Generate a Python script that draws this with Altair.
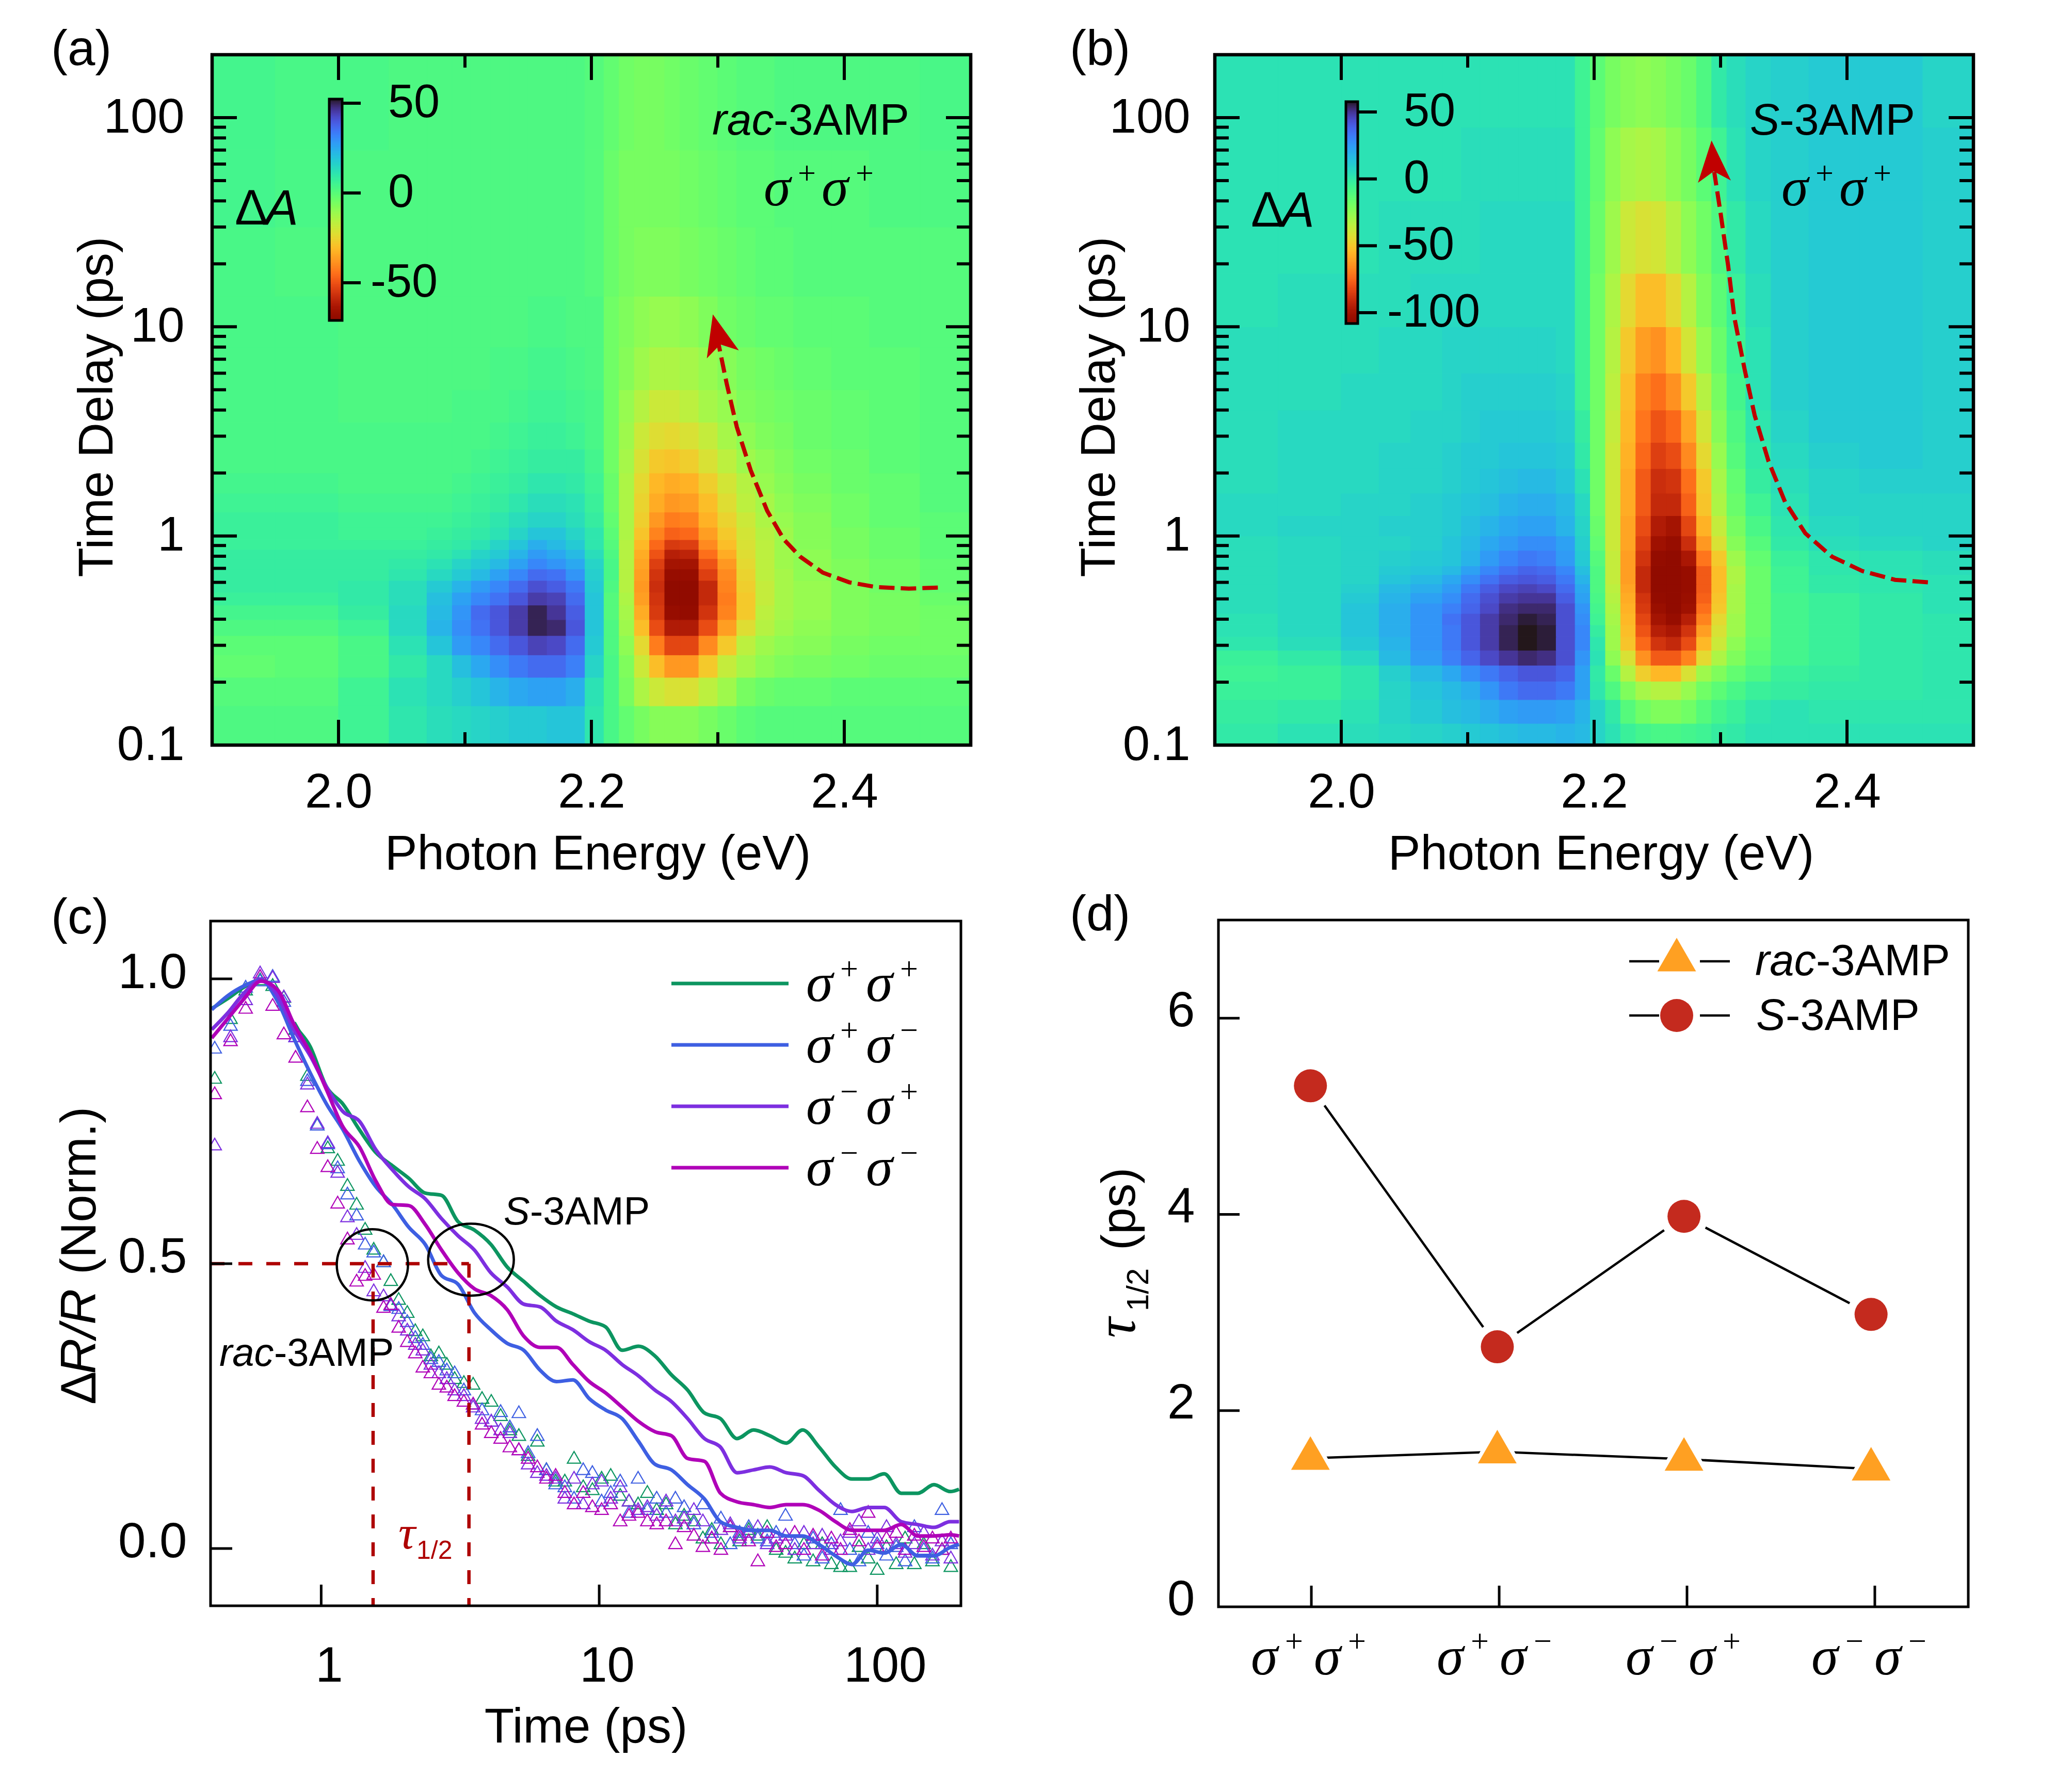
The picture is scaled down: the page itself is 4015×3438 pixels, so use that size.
import math
import altair as alt
import pandas as pd

SANS = "Liberation Sans"
SERIF = "Liberation Serif"
RED = "#C00000"
DRED = "#AE0000"

a_xe = [1.90,1.95,2.00,2.04,2.07,2.09,2.105,2.12,2.135,2.15,2.165,2.18,2.195,2.21,2.222,2.234,2.246,2.258,2.27,2.285,2.30,2.315,2.33,2.345,2.36,2.39,2.42,2.46,2.50]
a_ye = [.1,.154,.211,.27,.334,.398,.467,.538,.613,.695,.779,.862,.96,1.1,1.3,1.6,2.0,2.6,3.5,5,8,14,30,70,200]
a_r = [
[41,41,38,34,32,31,30,29,28,28,27,27,34,40,44,47,49,49,49,47,45,43,42,42,42,42,42,42],
[42,42,38,33,31,29,27,24,22,21,21,23,33,40,47,54,58,60,60,56,52,47,45,44,44,43,43,43],
[44,43,40,35,31,26,22,18,15,13,13,16,30,40,48,58,67,73,73,65,57,53,50,48,47,46,45,45],
[43,43,40,33,27,20,17,13,10,7,8,13,28,41,50,62,77,85,85,75,65,56,52,50,49,47,46,46],
[41,41,38,31,24,18,14,10,6,2,3,10,27,41,52,67,84,93,93,84,72,61,55,52,50,48,47,46],
[39,39,36,31,25,19,13,10,6,2,5,11,27,42,53,70,87,98,99,88,76,65,56,53,51,48,47,46],
[37,37,35,32,26,21,17,14,10,6,7,13,27,42,54,72,88,100,100,90,77,65,57,53,51,48,47,45],
[36,36,35,32,28,24,20,17,13,9,11,15,28,41,55,73,89,100,100,90,76,64,57,53,51,48,46,44],
[36,36,36,34,31,28,25,21,17,13,14,19,29,40,55,72,88,98,98,86,75,63,56,53,50,48,46,44],
[36,36,36,35,33,30,28,25,21,17,19,22,30,40,55,71,86,95,95,83,73,62,56,52,50,48,46,44],
[36,36,36,36,35,33,30,28,24,20,22,25,32,41,55,70,83,92,91,79,70,61,56,52,50,47,45,43],
[37,37,37,37,36,35,33,30,27,23,25,28,34,42,55,68,80,87,86,75,67,60,56,52,49,47,45,43],
[37,37,38,38,37,36,35,33,30,27,27,30,34,43,54,66,76,81,80,72,65,59,55,52,49,47,45,43],
[37,37,38,38,38,37,36,34,32,30,30,32,36,44,54,64,73,77,76,69,63,58,54,51,49,46,44,43],
[38,38,39,39,39,38,37,36,34,32,32,33,37,45,54,63,70,73,72,67,61,56,53,50,48,46,44,42],
[39,39,40,40,40,39,38,37,36,34,34,35,38,45,54,62,68,70,69,64,59,55,51,49,47,45,44,42],
[40,40,40,40,40,40,39,38,37,36,36,36,39,46,53,60,65,66,64,60,56,52,50,48,46,45,43,42],
[40,40,40,40,40,40,40,39,38,37,37,38,40,46,52,58,61,62,60,57,53,50,48,47,45,44,43,42],
[40,40,41,41,41,40,40,40,39,38,38,39,40,46,51,55,58,58,56,53,51,48,47,46,45,44,43,42],
[40,40,41,41,41,41,41,40,40,39,39,40,41,46,49,52,54,54,53,51,49,47,46,45,44,43,43,42],
[40,40,41,41,41,41,41,41,41,40,40,41,41,46,48,50,51,51,50,48,46,45,44,44,43,43,42,42],
[40,41,41,41,41,41,41,41,41,41,41,41,42,45,47,48,48,48,47,46,45,44,43,43,42,42,42,42],
[39,40,41,41,41,41,41,41,41,41,41,41,42,45,47,47,47,47,46,45,44,43,43,42,42,42,41,41],
[39,40,40,41,41,41,41,41,41,41,41,41,42,44,46,47,47,46,45,44,43,42,42,41,41,41,41,40],
]
# ---------- heat map (b)
b_xe = [1.90,1.95,2.00,2.03,2.055,2.08,2.095,2.11,2.125,2.14,2.155,2.17,2.185,2.197,2.209,2.221,2.233,2.245,2.257,2.269,2.281,2.293,2.305,2.32,2.34,2.37,2.41,2.46,2.50]
b_ye = [.1,.127,.165,.202,.241,.284,.33,.376,.426,.477,.535,.59,.653,.719,.853,1.0,1.25,1.6,2.1,2.8,4,6,10,18,40,90,200]
b_r = [
[35,33,32,31,30,29,28,27,26,25,25,24,25,30,33,37,39,40,40,39,38,36,35,33,33,33,33,33],
[36,35,33,30,28,26,25,23,21,20,20,21,24,30,35,42,46,48,48,46,42,39,37,34,33,34,34,34],
[37,37,34,30,27,25,23,19,15,13,13,15,21,34,41,48,53,55,55,51,46,43,40,37,36,35,35,34],
[38,37,34,29,25,22,18,15,12,10,10,12,21,35,45,55,64,68,68,60,52,48,44,41,37,36,35,34],
[37,35,31,25,20,16,12,8,5,3,4,9,19,33,50,60,74,82,82,76,62,54,48,43,39,37,35,34],
[34,32,28,24,19,15,10,6,2,0,1,9,17,34,52,66,80,88,90,84,68,58,50,44,39,37,35,34],
[33,31,27,23,19,15,10,6,2,0,1,9,17,36,52,67,83,92,94,88,72,60,52,45,39,37,35,34],
[33,31,27,23,19,14,10,6,3,1,2,9,18,38,53,68,85,95,98,92,76,62,52,45,39,37,35,34],
[32,31,27,23,19,16,12,8,4,3,3,9,19,39,54,69,87,97,100,96,79,65,53,45,39,37,35,33],
[32,31,28,24,21,18,13,9,6,5,5,11,21,40,55,70,88,99,100,97,81,66,53,45,39,37,35,33],
[32,31,29,25,23,20,15,11,8,7,8,13,22,41,56,71,90,100,100,98,82,67,53,45,38,35,34,33],
[32,31,30,27,25,22,18,14,11,10,11,15,24,41,57,72,90,100,100,98,82,67,54,45,38,35,34,33],
[32,31,30,28,27,25,21,17,14,12,13,17,26,41,57,72,90,100,100,98,82,67,54,45,38,34,33,32],
[32,31,30,29,28,27,24,20,17,15,16,20,28,42,57,72,88,99,100,94,78,65,52,44,37,34,33,32],
[32,31,30,30,29,27,25,22,20,18,18,21,29,44,58,71,86,96,98,89,73,60,49,42,35,32,31,30],
[31,30,30,29,29,28,26,24,22,21,21,24,30,45,58,71,84,93,95,85,69,57,47,40,34,31,30,30],
[31,31,30,30,29,28,27,26,24,23,23,25,31,46,58,70,82,90,90,81,66,54,45,38,33,30,30,30],
[32,31,31,30,30,29,28,27,26,25,25,27,33,46,58,70,82,89,88,79,65,53,44,36,32,30,29,29],
[32,31,31,30,30,29,28,28,27,27,27,28,35,46,58,69,80,86,84,75,62,51,42,35,31,29,28,29],
[32,31,31,31,30,30,29,28,28,28,28,29,36,46,57,68,78,83,80,71,59,49,41,34,30,28,28,29],
[32,32,31,31,31,30,29,29,29,29,29,30,38,46,56,67,76,79,74,65,55,47,39,33,29,28,28,29],
[32,32,32,31,31,30,30,30,30,30,30,31,38,46,55,65,72,74,68,59,51,45,38,33,29,28,28,29],
[33,32,32,32,31,31,31,31,31,31,31,31,38,46,54,62,67,67,62,55,48,43,37,32,29,28,28,29],
[33,33,33,32,32,32,32,31,31,31,31,31,38,45,52,58,60,59,55,50,46,41,35,31,29,28,28,29],
[33,33,33,33,33,33,32,32,32,32,32,32,38,44,50,53,54,53,50,47,43,38,33,30,29,28,28,29],
[33,33,33,33,33,33,33,33,33,33,33,33,38,43,47,49,50,49,47,45,41,35,32,30,29,28,28,30],
]
a_range = (-71.8, 51.4)
b_range = (-108.0, 57.7)
a_cb_ticks = [50, 0, -50]
b_cb_ticks = [50, 0, -50, -100]

# ---------- dashed arrows
a_arrow_e = [2.474,2.451,2.425,2.404,2.383,2.365,2.352,2.339,2.326,2.315,2.307,2.300]
a_arrow_t = [.566,.56,.57,.6,.668,.797,.966,1.32,2.06,3.32,5.35,8.6]
b_arrow_e = [2.464,2.438,2.412,2.388,2.367,2.351,2.338,2.327,2.319,2.311,2.306,2.300,2.295]
b_arrow_t = [.6,.617,.68,.797,1.03,1.455,2.27,3.77,6.27,11.0,19.6,35,55]

# ---------- panel c lines
line_t = [.404,.463,.53,.607,.696,.797,.913,1.046,1.198,1.373,1.573,1.802,2.065,2.366,2.71,3.105,3.557,4.076,4.67,5.35,6.13,7.02,8.04,9.21,10.55,12.09,13.85,15.87,18.18,20.8,23.9,27.3,31.3,35.9,41.1,47.1,53.9,61.8,70.8,81.1,92.9,106,122,140,160,183,197]
line_g = [.948,.966,.986,.998,.976,.921,.881,.81,.78,.735,.695,.672,.65,.624,.62,.574,.559,.534,.494,.469,.444,.424,.412,.399,.389,.348,.355,.338,.305,.278,.238,.228,.193,.208,.198,.185,.208,.178,.143,.122,.122,.131,.097,.097,.112,.10,.104]
line_b = [.946,.971,.988,.998,.961,.896,.835,.78,.735,.68,.635,.604,.564,.534,.479,.464,.414,.384,.36,.348,.313,.293,.296,.263,.243,.228,.188,.148,.138,.112,.087,.047,.037,.032,.032,.022,.022,.007,-.013,-.028,-.003,-.008,.007,-.013,-.013,.002,.007]
line_v = [.911,.941,.976,.998,.971,.911,.865,.81,.767,.75,.70,.665,.635,.614,.579,.549,.524,.484,.459,.429,.424,.399,.384,.363,.348,.323,.303,.278,.258,.228,.193,.178,.133,.138,.143,.133,.128,.102,.077,.065,.072,.072,.047,.042,.037,.047,.047]
line_m = [.896,.931,.966,.996,.981,.921,.87,.805,.74,.705,.645,.604,.602,.569,.524,.484,.456,.444,.419,.373,.353,.353,.323,.293,.273,.248,.223,.205,.198,.158,.153,.097,.082,.077,.072,.077,.077,.067,.047,.032,.032,.032,.042,.022,.022,.024,.022]
# ---------- panel c triangles
tri_t = [.414,.472,.535,.603,.669,.734,.809,.892,.968,1.056,1.146,1.243,1.341,1.439,1.545,1.676,1.78,1.90,2.04,2.18,2.32,2.48,2.65,2.83,3.02,
3.26,3.52,3.79,4.09,4.42,4.77,5.14,5.55,5.99,6.46,6.97,7.52,8.12,8.76,9.45,10.2,11.0,11.9,12.8,13.8,14.9,16.1,17.4,18.8,20.2,21.9,23.6,25.4,27.4,29.6,32.0,34.5,37.2,40.2,43.3,46.8,50.5,54.5,58.8,63.4,68.4,73.8,79.7,86.0,92.8,100,108,117,126,136,147,158,171,184]
tri_g = [.827,.932,.982,1.0,.99,.969,.913,.832,.745,.705,.683,.639,.606,.562,.527,.505,.472,.439,.416,.384,.375,.34,.345,.325,.30,
.293,.29,.265,.26,.235,.21,.20,.165,.19,.14,.12,.12,.16,.11,.105,.125,.13,.095,.085,.08,.10,.07,.08,.045,.06,.05,.02,.035,.01,.04,.015,.035,.025,.04,.00,-.005,-.015,.01,-.02,.01,-.025,-.03,-.03,.005,-.015,-.035,.005,-.025,.02,-.025,.01,-.02,.00,-.03]
tri_b = [.88,.92,.987,.998,1.006,.962,.90,.823,.745,.712,.67,.624,.587,.536,.522,.505,.428,.423,.40,.372,.36,.335,.33,.315,.31,
.28,.255,.245,.225,.242,.215,.24,.17,.20,.14,.115,.11,.09,.14,.135,.085,.10,.12,.065,.125,.07,.09,.065,.09,.075,.045,.08,.03,.055,.01,.03,.04,.02,.015,.03,.06,.01,-.01,.02,-.015,.01,.07,.00,-.02,.03,.01,-.01,.005,-.02,.04,.00,-.015,.07,.01]
tri_v = [.71,.90,.965,1.012,1.004,.97,.90,.817,.748,.714,.662,.584,.553,.495,.454,.445,.43,.41,.385,.36,.35,.325,.31,.30,.28,
.27,.25,.23,.225,.21,.205,.175,.15,.135,.13,.125,.09,.125,.08,.115,.12,.09,.11,.085,.07,.075,.06,.085,.05,.055,.07,.05,.02,.035,.045,.02,.03,.04,.01,.02,.025,.00,.03,.01,.025,.00,.015,.03,.05,.00,.02,.04,.01,-.005,.01,.03,-.01,.015,-.015]
tri_m = [.80,.893,.95,1.006,.955,.905,.864,.777,.704,.672,.608,.545,.471,.481,.483,.425,.43,.39,.365,.345,.32,.31,.29,.285,.27,
.26,.255,.22,.205,.195,.18,.175,.16,.145,.125,.13,.10,.08,.10,.075,.07,.08,.05,.06,.065,.05,.045,.05,.01,.04,.025,.005,.02,.00,.04,.025,.015,-.02,.03,.005,.01,.03,.00,.025,-.01,.02,.00,.035,.015,.065,.005,.02,.03,.00,.025,.005,.02,.00,.02]
C_G, C_B, C_V, C_M = "#0C9560", "#3E5FE2", "#7D2FE0", "#B000B8"

# ---------- panel d
d_x = [.995, 1.99, 2.984, 3.98]
d_rac = [1.515, 1.58, 1.505, 1.405]
d_s = [5.31, 2.65, 3.98, 2.98]
C_OR, C_RD = "#FFA022", "#C42A1E"


def txt(x, y, s, size=92, italic=False, font=SANS, align="left", baseline="alphabetic", angle=0, color="black"):
    kw = dict(fontSize=size, font=font, align=align, baseline=baseline, color=color)
    if italic:
        kw["fontStyle"] = "italic"
    if angle:
        kw["angle"] = angle
    return alt.Chart(pd.DataFrame({"t": [s]})).mark_text(**kw).encode(x=alt.value(x), y=alt.value(y), text="t:N")


def sigma(x, y, s1, s2, size=105, sup=62, rise=42, off=(0, 66, 116, 182)):
    return [
        txt(x + off[0], y, "σ", size, True, SERIF),
        txt(x + off[1], y - rise, s1, sup, False, SERIF),
        txt(x + off[2], y, "σ", size, True, SERIF),
        txt(x + off[3], y - rise, s2, sup, False, SERIF),
    ]


def frame(x0, x1, y0, y1, w):
    return alt.Chart(pd.DataFrame({"a": [0]})).mark_rect(fill=None, stroke="black", strokeWidth=w).encode(
        x=alt.value(x0), x2=alt.value(x1), y=alt.value(y0), y2=alt.value(y1))


def xticks(vals, X, y0, y1, w):
    return alt.Chart(pd.DataFrame({"x": vals})).mark_rule(color="black", strokeWidth=w).encode(
        x=X, y=alt.value(y0), y2=alt.value(y1))


def yticks(vals, Y, x0, x1, w):
    return alt.Chart(pd.DataFrame({"y": vals})).mark_rule(color="black", strokeWidth=w).encode(
        y=Y, x=alt.value(x0), x2=alt.value(x1))


AX = dict(domain=False, ticks=False, grid=False, labelFont=SANS, labelColor="black", labelFlush=False,
          labelOverlap=False)
TI = dict(titleFont=SANS, titleColor="black", titleFontWeight="normal", titleFontSize=94)

Y_MAJOR = [1, 10, 100]
Y_MINOR = [.2,.3,.4,.5,.6,.7,.8,.9,2,3,4,5,6,7,8,9,20,30,40,50,60,70,80,90]
H_TOP = 1338


def heat_panel(xe, ye, rows, vrange, xdom, width, dx, xt_x, ytitle_x, cb, arrow_e, arrow_t, head, cb_ticks, cb_lab, label, name, dlt, sig_x, name_x):
    vmin, vmax = vrange
    recs = []
    for j, r in enumerate(rows):
        for i, t in enumerate(r):
            recs.append(dict(x=xe[i], x2=xe[i + 1], y=ye[j], y2=ye[j + 1], v=vmax - (vmax - vmin) * t / 100))
    hd = pd.DataFrame(recs)
    sx = alt.Scale(domain=list(xdom), nice=False, zero=False)
    sy = alt.Scale(type="log", base=10, domain=[.1, 200], nice=False)
    sc = alt.Scale(scheme="turbo", domain=[vmin, vmax], reverse=True, clamp=True)
    X0 = alt.X("x:Q", scale=sx, axis=alt.Axis(values=[2.0, 2.2, 2.4], format=".1f", labelFontSize=94, labelPadding=46,
                                              labelAngle=0, title="Photon Energy (eV)", titleX=xt_x, titleY=240,
                                              titleAlign="center", titleBaseline="alphabetic", **AX, **TI))
    Y0 = alt.Y("y:Q", scale=sy, axis=alt.Axis(values=[.1, 1, 10, 100], format="~g", labelFontSize=94, labelPadding=48 + dx,
                                              title="Time Delay (ps)", titleX=ytitle_x, titleY=682, titleAngle=270,
                                              titleAlign="center", titleBaseline="alphabetic", **AX, **TI))
    heat = alt.Chart(hd).mark_rect(strokeWidth=1.2).encode(
        x=X0, x2="x2:Q", y=Y0, y2="y2:Q",
        color=alt.Color("v:Q", scale=sc, legend=None),
        stroke=alt.Stroke("v:Q", scale=sc, legend=None),
    )
    # colour bar, placed through the panel's own scales
    px_e = lambda p: xdom[0] + p * (xdom[1] - xdom[0]) / width
    px_t = lambda p: 10 ** (math.log10(200) - p / H_TOP * math.log10(2000))
    bx0, bx1, by0, by1, tx1, val_rel = cb
    vmax_tick, vmin_tick = cb_ticks[0], cb_ticks[-1]
    v2p = lambda v: val_rel[0] + (val_rel[1] - val_rel[0]) * (vmax_tick - v) / (vmax_tick - vmin_tick)
    n = 140
    cbr = []
    for k in range(n):
        p0 = by0 + (by1 - by0) * k / n
        p1 = by0 + (by1 - by0) * (k + 1) / n
        cbr.append(dict(x=px_e(bx0), x2=px_e(bx1), y=px_t(p0), y2=px_t(p1), v=vmax - (vmax - vmin) * (k + .5) / n))
    cbar = alt.Chart(pd.DataFrame(cbr)).mark_rect(strokeWidth=1).encode(
        x=X0, x2="x2:Q", y=Y0, y2="y2:Q",
        color=alt.Color("v:Q", scale=sc, legend=None), stroke=alt.Stroke("v:Q", scale=sc, legend=None))
    cbox = alt.Chart(pd.DataFrame({"x": [px_e(bx0)], "x2": [px_e(bx1)], "y": [px_t(by0)], "y2": [px_t(by1)]})).mark_rect(
        fill=None, stroke="black", strokeWidth=5).encode(x=X0, x2="x2:Q", y=Y0, y2="y2:Q")
    ctk = alt.Chart(pd.DataFrame({"x": [px_e(bx1)] * len(cb_ticks), "x2": [px_e(tx1)] * len(cb_ticks),
                                  "y": [px_t(v2p(v)) for v in cb_ticks]})).mark_rule(color="black", strokeWidth=6).encode(
        x=X0, x2="x2:Q", y=Y0)
    cb_texts = [txt(lx, v2p(v), str(v), 90, baseline="middle") for v, lx in zip(cb_ticks, cb_lab)]

    arrow = alt.Chart(pd.DataFrame({"x": arrow_e, "y": arrow_t, "i": range(len(arrow_e))})).mark_line(
        color=RED, strokeWidth=8, strokeDash=[30, 12]).encode(x=X0, y=Y0, order="i:Q")
    hd_e, hd_t, hd_a = head
    arrowhead = alt.Chart(pd.DataFrame({"x": [hd_e], "y": [hd_t]})).mark_point(
        shape="M0,-1L.8,1L0,.5L-.8,1Z", filled=True, color=RED, opacity=1, size=6400, angle=hd_a).encode(x=X0, y=Y0)

    layers = [heat, cbar, cbox, ctk] + cb_texts + [arrow, arrowhead]
    W = width
    layers += [
        xticks([2.0, 2.2, 2.4], X0, H_TOP, H_TOP - 49, 6), xticks([2.1, 2.3], X0, H_TOP, H_TOP - 25, 6),
        xticks([2.0, 2.2, 2.4], X0, 0, 49, 6), xticks([2.1, 2.3], X0, 0, 25, 6),
        yticks(Y_MAJOR, Y0, dx, dx + 48, 6), yticks(Y_MINOR, Y0, dx, dx + 27, 6),
        yticks(Y_MAJOR, Y0, W - 48, W, 6), yticks(Y_MINOR, Y0, W - 27, W, 6),
        frame(dx, W, 0, H_TOP, 6.5),
        txt(label[0], -9, label[1], 96, baseline="middle"),
        txt(dlt[0], dlt[1], "Δ", 96), txt(dlt[0] + 59, dlt[1], "A", 96, True),
        txt(name_x[0], 155, name[0], 86, True), txt(name_x[1], 155, "-3AMP", 86),
    ] + sigma(sig_x, 292, "+", "+", off=(0, 66, 112, 178))
    return alt.layer(*layers).properties(width=W, height=H_TOP)


a = heat_panel(a_xe, a_ye, a_r, a_range, (1.8988, 2.5), 1473, 3, 750, -191,
               (230, 255, 86, 515, 291, (94, 442)), a_arrow_e, a_arrow_t, (2.30, 9.2, 346),
               a_cb_ticks, [344, 344, 310], (-309, "(a)"), ("rac",), (47, 329), 1072, (972, 1091))
b = heat_panel(b_xe, b_ye, b_r, b_range, (1.9, 2.5), 1470, 0, 748, -195,
               (254, 277, 91, 521, 314, (111, 500)), b_arrow_e, b_arrow_t, (2.294, 62, 356),
               b_cb_ticks, [366, 366, 334, 334], (-281, "(b)"), ("S",), (70, 333), 1098, (1037, 1094))

# ---------- panel c
CH, CW = 1331, 1454
sxc = alt.Scale(type="log", base=10, domain=[.4, 200], nice=False)
syc = alt.Scale(domain=[-.1024, 1.1033], nice=False, zero=False)
Xc = alt.X("x:Q", scale=sxc, axis=alt.Axis(values=[1, 10, 100], format="~g", labelFontSize=96, labelPadding=68,
                                           labelOffset=15, labelAngle=0, title="Time (ps)", titleX=727, titleY=262,
                                           titleAlign="center", titleBaseline="alphabetic", **AX, **TI))
Yc = alt.Y("y:Q", scale=syc, axis=alt.Axis(values=[0, .5, 1], format=".1f", labelFontSize=96, labelPadding=46,
                                           labelOffset=-12, title=None, **AX))
layers_c = []
for arr, col in [(tri_g, C_G), (tri_b, C_B), (tri_v, C_V), (tri_m, C_M)]:
    layers_c.append(alt.Chart(pd.DataFrame({"x": tri_t, "y": arr})).mark_point(
        shape="triangle-up", filled=False, color=col, size=676, strokeWidth=2.2, opacity=1, clip=True).encode(x=Xc, y=Yc))
for arr, col in [(line_g, C_G), (line_b, C_B), (line_v, C_V), (line_m, C_M)]:
    layers_c.append(alt.Chart(pd.DataFrame({"x": line_t, "y": arr})).mark_line(
        color=col, strokeWidth=7, interpolate="monotone", clip=True).encode(x=Xc, y=Yc))
tau_t = [1.537, 3.4]
dash_h = alt.Chart(pd.DataFrame({"x": [.4, 3.4], "y": [.5, .5]})).mark_line(color=DRED, strokeWidth=6.5, strokeDash=[27, 27]).encode(x=Xc, y=Yc)
dash_v = [alt.Chart(pd.DataFrame({"x": [t, t], "y": [.5, -.1]})).mark_line(color=DRED, strokeWidth=6.5, strokeDash=[27, 27]).encode(x=Xc, y=Yc) for t in tau_t]
circ1 = alt.Chart(pd.DataFrame({"x": [1.528], "y": [.498]})).mark_point(
    shape="circle", filled=False, color="black", opacity=1, size=19044, strokeWidth=4.5).encode(x=Xc, y=Yc)
circ2 = alt.Chart(pd.DataFrame({"x": [3.458], "y": [.507]})).mark_point(
    shape="M-1,0A1,.84 0 1 1 1,0A1,.84 0 1 1 -1,0Z", filled=False, color="black", opacity=1, size=27556, strokeWidth=4.5).encode(x=Xc, y=Yc)
leg_c = []
for k, (col, s1, s2) in enumerate([(C_G, "+", "+"), (C_B, "+", "−"), (C_V, "−", "+"), (C_M, "−", "−")]):
    yy = 123 + 119 * k
    leg_c.append(alt.Chart(pd.DataFrame({"a": [0]})).mark_rule(color=col, strokeWidth=7).encode(
        x=alt.value(893), x2=alt.value(1120), y=alt.value(yy)))
    leg_c += sigma(1154, 157 + 119 * k, s1, s2)
c = alt.layer(
    *layers_c, dash_h, *dash_v, circ1, circ2,
    xticks([1, 10, 100], Xc, 1329, 1288, 5), yticks([0, .5, 1], Yc, 0, 42, 5),
    frame(0, CW, 2, 1329, 5),
    txt(-309, -3, "(c)", 96, baseline="middle"),
    txt(-223, 939, "Δ", 96, angle=270), txt(-223, 880, "R/R", 96, True, angle=270), txt(-223, 687, "(Norm.)", 96, angle=270),
    txt(568, 590, "S", 76, True), txt(619, 590, "-3AMP", 76),
    txt(17, 864, "rac", 76, True), txt(123, 864, "-3AMP", 76),
    txt(364, 1218, "τ", 92, True, SERIF, color=DRED), txt(399, 1238, "1/2", 50, color=DRED),
    *leg_c,
).properties(width=CW, height=CH)

# ---------- panel d
DW, DH, DDX = 1470, 1331, 7
sxd = alt.Scale(domain=[.486, 4.525], nice=False, zero=False)
syd = alt.Scale(domain=[0, 7], nice=False, zero=False)
Xd = alt.X("x:Q", scale=sxd, axis=None)
Yd = alt.Y("y:Q", scale=syd, axis=alt.Axis(values=[0, 2, 4, 6], format="d", labelFontSize=96, labelPadding=39,
                                           labelOffset=-14, title=None, **AX))
dfr = pd.DataFrame({"x": d_x, "y": d_rac})
dfs = pd.DataFrame({"x": d_x, "y": d_s})
def dline(df):
    return alt.Chart(df).mark_line(color="black", strokeWidth=4.5).encode(x=Xd, y=Yd)
def dpts(df, shape, size, color, yo=0):
    kw = dict(shape=shape, filled=True, color=color, size=size, opacity=1, strokeWidth=0)
    if yo:
        kw["yOffset"] = yo
    return alt.Chart(df).mark_point(**kw).encode(x=Xd, y=Yd)
def lseg(x0, x1, y):
    return alt.Chart(pd.DataFrame({"a": [0]})).mark_rule(color="black", strokeWidth=4.5).encode(
        x=alt.value(x0), x2=alt.value(x1), y=alt.value(y))
def lpt(x, y, shape, size, color):
    return alt.Chart(pd.DataFrame({"a": [0]})).mark_point(shape=shape, filled=True, color=color, size=size, opacity=1, strokeWidth=0).encode(
        x=alt.value(x), y=alt.value(y))
d_labels = []
for xx, (s1, s2) in zip([70, 430, 796, 1156], [("+", "+"), ("+", "−"), ("−", "+"), ("−", "−")]):
    d_labels += sigma(xx, 1462, s1, s2, off=(0, 66, 122, 188), rise=44)
d = alt.layer(
    dline(dfs), dline(dfr),
    dpts(dfs, "circle", 8836, "white"), dpts(dfr, "triangle-up", 12100, "white", -10),
    dpts(dfs, "circle", 4096, C_RD), dpts(dfr, "triangle-up", 5625, C_OR, -10),
    xticks([1, 2, 3, 4], Xd, 1331, 1290, 5), yticks([2, 4, 6], Yd, DDX, DDX + 41, 5),
    frame(DDX, 1460, 0, DH, 5),
    txt(-281, -9, "(d)", 96, baseline="middle"),
    lseg(803, 861, 80), lseg(940, 998, 80), lpt(895, 67, "triangle-up", 5625, C_OR),
    lseg(803, 861, 185), lseg(940, 998, 185), lpt(895, 185, "circle", 4096, C_RD),
    txt(1047, 107, "rac", 85, True), txt(1165, 107, "-3AMP", 85),
    txt(1049, 213, "S", 85, True), txt(1106, 213, "-3AMP", 85),
    txt(-155, 810, "τ", 110, True, SERIF, angle=270), txt(-129, 758, "1/2", 60, angle=270), txt(-155, 640, "(ps)", 93, angle=270),
    *d_labels,
).properties(width=DW, height=DH)

chart = alt.concat(a, b, c, d, columns=2, spacing={"row": 339, "column": 473}, bounds="flush").resolve_scale(
    color="independent", stroke="independent"
).properties(
    padding={"left": 91, "top": 41, "right": 10, "bottom": 10}, background="white"
).configure_view(stroke=None)

chart.save("out.html", embed_options={"renderer": "svg", "actions": False})
